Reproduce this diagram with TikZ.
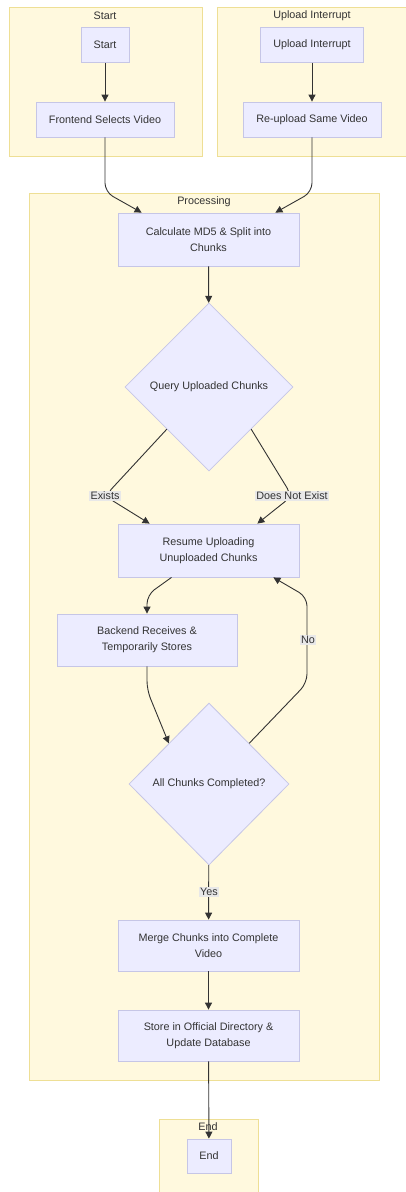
\documentclass[tikz,border=0pt]{standalone}
\usepackage{fontspec}
\setmainfont{Liberation Sans}
\usetikzlibrary{arrows.meta}
\usetikzlibrary{shapes.geometric}
\usetikzlibrary{positioning}

\definecolor{clusterfill}{HTML}{FFF9DE}
\definecolor{clusterline}{HTML}{EEDF95}
\definecolor{boxfill}{HTML}{ECECFF}
\definecolor{boxline}{HTML}{C6C6E6}
\definecolor{flowline}{HTML}{333333}
\definecolor{labelfill}{HTML}{E8E8E8}
\definecolor{textcol}{HTML}{333333}

\begin{document}
\begin{tikzpicture}
	[x=1pt, y=-1pt,
	> = {Triangle[length=7pt,width=7pt]},
	every node/.style={font=\fontsize{10.8}{16}\selectfont, text=textcol},
	cluster/.style = {draw=clusterline, fill=clusterfill, line width=1pt, inner sep=0pt, anchor=north west},
	box/.style = {draw=boxline, fill=boxfill, line width=0.8pt, align=center, inner sep=0pt},
	decision/.style = {box, diamond, aspect=1},
	flow/.style = {draw=flowline, line width=0.9pt, ->, rounded corners=9pt},
	edgelabel/.style = {fill=labelfill, inner sep=1.5pt}
	]
	\useasboundingbox (0,0) rectangle (405,1192);

	% groups
	\node[cluster, minimum width=193pt, minimum height=149pt] (startgrp) at (9,7) {};
	\node[cluster, minimum width=193pt, minimum height=149pt] (uploadgrp) at (217,7) {};
	\node[cluster, minimum width=350pt, minimum height=887pt] (procgrp) at (29,193) {};
	\node[cluster, minimum width=99pt, minimum height=90pt] (endgrp) at (159,1119) {};

	\node (starttitle) at (105,16) {Start};
	\node (uploadtitle) at (312,16) {Upload Interrupt};
	\node (proctitle) at (204,202) {Processing};
	\node (endtitle) at (208,1127) {End};

	% steps
	\node[box, minimum width=48pt, minimum height=35pt] (start) at (105,45) {Start};
	\node[box, minimum width=103pt, minimum height=35pt] (upload) at (312,45) {Upload Interrupt};
	\node[box, minimum width=138pt, minimum height=35pt] (frontend) at (105,119.5) {Frontend Selects Video};
	\node[box, minimum width=138pt, minimum height=35pt] (reupload) at (312,119.5) {Re-upload Same Video};
	\node[box, minimum width=181pt, minimum height=53pt] (calc) at (208.5,239.5) {Calculate MD5 \& Split into\\Chunks};
	\node[decision, minimum width=168pt, minimum height=168pt] (query) at (209,387) {Query Uploaded Chunks};
	\node[box, minimum width=181pt, minimum height=53pt] (resume) at (208.5,550.5) {Resume Uploading\\Unuploaded Chunks};
	\node[box, minimum width=180pt, minimum height=52pt] (backend) at (147,640) {Backend Receives \&\\Temporarily Stores};
	\node[decision, minimum width=160pt, minimum height=162pt] (allchunks) at (209,784) {All Chunks Completed?};
	\node[box, minimum width=181pt, minimum height=51pt] (merge) at (208.5,945.5) {Merge Chunks into Complete\\Video};
	\node[box, minimum width=181pt, minimum height=51pt] (store) at (208.5,1035.5) {Store in Official Directory \&\\Update Database};
	\node[box, minimum width=44pt, minimum height=34pt] (finish) at (209,1156) {End};

	% bends
	\coordinate (leftdrop) at (105,192);
	\coordinate (rightdrop) at (312,192);
	\coordinate (existsbend) at (105,496);
	\coordinate (missbend) at (292,496);
	\coordinate (backbend) at (147,595);
	\coordinate (mergebend) at (147,690);
	\coordinate (nobendlow) at (307,683);
	\coordinate (nobendhigh) at (307,597);

	\draw[flow] (start) -- (frontend);
	\draw[flow] (upload) -- (reupload);
	\draw[flow] (frontend.south) -- (leftdrop) -- ([xshift=24pt]calc.north west);
	\draw[flow] (reupload.south) -- (rightdrop) -- ([xshift=-24pt]calc.north east);
	\draw[flow] (calc) -- (query);
	\draw[flow] (query.south west) -- (existsbend) -- ([xshift=32pt]resume.north west);
	\draw[flow] (query.south east) -- (missbend) -- ([xshift=-42pt]resume.north east);
	\draw[flow] ([xshift=-37pt]resume.south) -- (backbend) -- (backend.north);
	\draw[flow] (backend.south) -- (mergebend) -- (allchunks.north west);
	\draw[flow] (allchunks.north east) -- (nobendlow) -- (nobendhigh) -- ([xshift=-26pt]resume.south east);
	\draw[flow] (allchunks) -- (merge);
	\draw[flow] (merge) -- (store);
	\draw[flow] (store) -- (finish);

	% edge labels
	\node[edgelabel] (existslbl) at (existsbend) {Exists};
	\node[edgelabel] (misslbl) at (missbend) {Does Not Exist};
	\node[edgelabel] (nolbl) at (308,640) {No};
	\node[edgelabel] (yeslbl) at (209,892) {Yes};
\end{tikzpicture}
\end{document}
